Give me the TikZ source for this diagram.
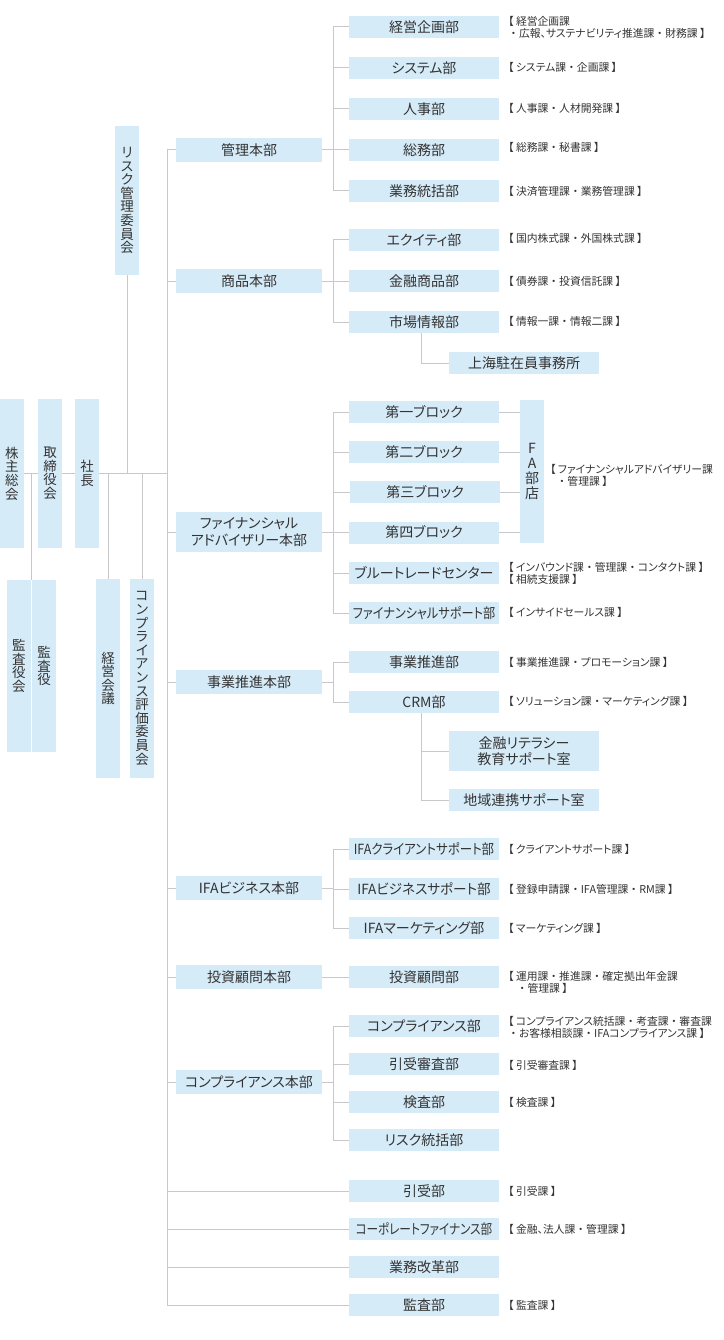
\documentclass[tikz,border=0pt]{standalone}
\usepackage{graphicx}
\usepackage{fontspec}
\setmainfont{Noto Sans CJK JP}[RawFeature=+palt]
\newfontfamily\fullwidthfont{Noto Sans CJK JP}
\newcommand\nk{{\fullwidthfont ・}}
\usetikzlibrary{positioning}
\definecolor{boxblue}{HTML}{D6EBF8}
\definecolor{linegray}{HTML}{C8C8C8}
\definecolor{inkgray}{HTML}{333333}

\begin{document}
\begin{tikzpicture}[x=1pt, y=-1pt,
  unitbox/.style={fill=boxblue, text=inkgray, inner sep=0pt, align=center, font=\fontsize{14}{17}\selectfont},
  hqbox/.style={unitbox, minimum width=146pt, minimum height=24pt},
  deptbox/.style={unitbox, minimum width=150pt, minimum height=22pt},
  vertbox/.style={unitbox, minimum width=24pt, font=\fontsize{13.5}{13.6}\selectfont},
  note/.style={anchor=west, inner sep=0pt, text=inkgray, align=left, font=\fontsize{10.8}{12}\selectfont},
  link/.style={draw=linegray, line width=1pt}]
\def\notex{508}

\fill[white] (0,0) rectangle (723,1340);
\useasboundingbox (0,0) rectangle (723,1340);

\coordinate (trunk) at (167,473);
\coordinate (br) at (333,0);
\coordinate (sub) at (421,0);

\node[vertbox, minimum height=149pt] (kabunushi) at (12,473.5) {株\\主\\総\\会};
\node[vertbox, minimum height=149pt] (torishimari) at (50,473.5) {取\\締\\役\\会};
\node[vertbox, minimum height=149pt] (shacho) at (87,473.5) {社\\長};
\node[vertbox, minimum height=172pt] (kansayakukai) at (19,666) {監\\査\\役\\会};
\node[vertbox, minimum height=172pt] (kansayaku) at (44,666) {監\\査\\役};
\node[vertbox, minimum height=149pt] (riskiin) at (127,200.5) {リ\\ス\\ク\\管\\理\\委\\員\\会};
\node[vertbox, minimum height=199pt] (kaigi) at (108,678.5) {経\\営\\会\\議};
\node[vertbox, minimum height=199pt] (hyoka) at (142,678.5) {コ\\ン\\プ\\ラ\\イ\\ア\\ン\\ス\\評\\価\\委\\員\\会};

\node[hqbox] (kanri) at (249,150) {管理本部};
\node[hqbox] (shohin) at (249,281) {商品本部};
\node[hqbox, minimum height=40pt] (fa) at (249,532) {ファイナンシャル\\アドバイザリー本部};
\node[hqbox] (jigyo) at (249,682) {事業推進本部};
\node[hqbox] (ifa) at (249,888) {IFAビジネス本部};
\node[hqbox] (toushi) at (249,977) {投資顧問本部};
\node[hqbox] (comp) at (249,1082) {コンプライアンス本部};

\node[deptbox] (keiki) at (424,27) {経営企画部};
\node[deptbox] (system) at (424,68) {システム部};
\node[deptbox] (jinji) at (424,109) {人事部};
\node[deptbox] (somu) at (424,150) {総務部};
\node[deptbox] (gyomu) at (424,191) {業務統括部};
\node[deptbox] (equity) at (424,240) {エクイティ部};
\node[deptbox] (kinyu) at (424,281) {金融商品部};
\node[deptbox] (ichiba) at (424,322) {市場情報部};
\node[deptbox] (blk1) at (424,412) {第一ブロック};
\node[deptbox] (blk2) at (424,452) {第二ブロック};
\node[deptbox] (blk3) at (425,492) {第三ブロック};
\node[deptbox] (blk4) at (424,532.5) {第四ブロック};
\node[deptbox] (blue) at (424,573) {ブルートレードセンター};
\node[deptbox] (fsup) at (424,613) {\scalebox{0.87}[1]{ファイナンシャルサポート部}};
\node[deptbox] (suishin) at (424,662) {事業推進部};
\node[deptbox] (crm) at (424,702) {CRM部};
\node[deptbox] (ifacl) at (424,849) {\scalebox{0.89}[1]{IFAクライアントサポート部}};
\node[deptbox] (ifabs) at (424,889) {\scalebox{0.97}[1]{IFAビジネスサポート部}};
\node[deptbox] (ifamk) at (424,928) {IFAマーケティング部};
\node[deptbox] (toushibu) at (424,977) {投資顧問部};
\node[deptbox] (compbu) at (424,1026) {コンプライアンス部};
\node[deptbox] (hikishin) at (424,1064) {引受審査部};
\node[deptbox] (kensa) at (424,1102) {検査部};
\node[deptbox] (risktou) at (424,1140) {リスク統括部};
\node[deptbox] (hikiuke) at (424,1191) {引受部};
\node[deptbox] (corp) at (424,1229) {\scalebox{0.83}[1]{コーポレートファイナンス部}};
\node[deptbox] (kaikaku) at (424,1267) {業務改革部};
\node[deptbox] (kansabu) at (424,1305) {監査部};

\node[deptbox] (shanghai) at (524,363) {上海駐在員事務所};
\node[deptbox, minimum height=40pt, font=\fontsize{14}{16}\selectfont] (literacy) at (524,751) {金融リテラシー\\教育サポート室};
\node[deptbox] (chiiki) at (524,800) {地域連携サポート室};
\node[unitbox, minimum width=24pt, minimum height=143pt, font=\fontsize{14}{15}\selectfont] (fabu) at (532,471.5) {F\\A\\部\\店};

\node[note] (keikiNote) at (\notex,27) {【 経営企画課\\\nk 広報、サステナビリティ推進課\nk 財務課 】};
\node[note] (systemNote) at (\notex,67) {【 システム課\nk 企画課 】};
\node[note] (jinjiNote) at (\notex,108) {【 人事課\nk 人材開発課 】};
\node[note] (somuNote) at (\notex,147) {【 総務課\nk 秘書課 】};
\node[note] (gyomuNote) at (\notex,191) {【 決済管理課\nk 業務管理課 】};
\node[note] (equityNote) at (\notex,238) {【 国内株式課\nk 外国株式課 】};
\node[note] (kinyuNote) at (\notex,281) {【 債券課\nk 投資信託課 】};
\node[note] (ichibaNote) at (\notex,321) {【 情報一課\nk 情報二課 】};
\node[note] (fabuNote) at (550,475) {【 ファイナンシャルアドバイザリー課\\\hspace*{0.6em}\nk 管理課 】};
\node[note] (blueNote) at (\notex,573) {【 インバウンド課\nk 管理課\nk コンタクト課 】\\【 相続支援課 】};
\node[note] (fsupNote) at (\notex,612) {【 インサイドセールス課 】};
\node[note] (suishinNote) at (\notex,662) {【 事業推進課\nk プロモーション課 】};
\node[note] (crmNote) at (\notex,701) {【 ソリューション課\nk マーケティング課 】};
\node[note] (ifaclNote) at (\notex,849) {【 クライアントサポート課 】};
\node[note] (ifabsNote) at (\notex,889) {【 登録申請課\nk IFA管理課\nk RM課 】};
\node[note] (ifamkNote) at (\notex,928) {【 マーケティング課 】};
\node[note] (toushibuNote) at (\notex,982) {【 運用課\nk 推進課\nk 確定拠出年金課\\\hspace*{0.8em}\nk 管理課 】};
\node[note] (compbuNote) at (\notex,1027) {【 コンプライアンス統括課\nk 考査課\nk 審査課\\\nk お客様相談課\nk IFAコンプライアンス課 】};
\node[note] (hikishinNote) at (\notex,1065) {【 引受審査課 】};
\node[note] (kensaNote) at (\notex,1102) {【 検査課 】};
\node[note] (hikiukeNote) at (\notex,1191) {【 引受課 】};
\node[note] (corpNote) at (\notex,1229) {【 金融、法人課\nk 管理課 】};
\node[note] (kansabuNote) at (\notex,1305) {【 監査課 】};

\draw[link] (kabunushi.east |- trunk) -- (torishimari.west |- trunk);
\draw[link] (torishimari.east |- trunk) -- (shacho.west |- trunk);
\draw[link] (shacho.east |- trunk) -- (trunk);
\draw[link] (riskiin.south) -- (riskiin.south |- trunk);
\draw[link] (kaigi.north) -- (kaigi.north |- trunk);
\draw[link] (hyoka.north) -- (hyoka.north |- trunk);
\draw[link] (kansayakukai.north east) -- (kansayakukai.north east |- trunk);
\draw[link] (kanri.west -| trunk) -- (kansabu.west -| trunk);
\foreach \h in {kanri,shohin,fa,jigyo,ifa,toushi,comp}
  \draw[link] (\h.west -| trunk) -- (\h.west);
\foreach \h in {kanri,shohin,fa,jigyo,ifa,comp}
  \draw[link] (\h.east) -- (\h.east -| br);
\draw[link] (toushi.east) -- (toushibu.west);

\draw[link] (keiki.west -| br) -- (gyomu.west -| br);
\draw[link] (equity.west -| br) -- (ichiba.west -| br);
\draw[link] (blk1.west -| br) -- (fsup.west -| br);
\draw[link] (suishin.west -| br) -- (crm.west -| br);
\draw[link] (ifacl.west -| br) -- (ifamk.west -| br);
\draw[link] (compbu.west -| br) -- (risktou.west -| br);
\foreach \d in {keiki,system,jinji,somu,gyomu,equity,kinyu,ichiba,blk1,blk2,blk3,blk4,blue,fsup,suishin,crm,ifacl,ifabs,ifamk,compbu,hikishin,kensa,risktou}
  \draw[link] (\d.west -| br) -- (\d.west);
\foreach \d in {hikiuke,corp,kaikaku,kansabu}
  \draw[link] (\d.west -| trunk) -- (\d.west);
\foreach \b in {blk1,blk2,blk3,blk4}
  \draw[link] (\b.east) -- (\b.east -| fabu.west);

\draw[link] (ichiba.south -| sub) -- (shanghai.west -| sub) -- (shanghai.west);
\draw[link] (crm.south -| sub) -- (chiiki.west -| sub) -- (chiiki.west);
\draw[link] (literacy.west -| sub) -- (literacy.west);
\end{tikzpicture}
\end{document}
